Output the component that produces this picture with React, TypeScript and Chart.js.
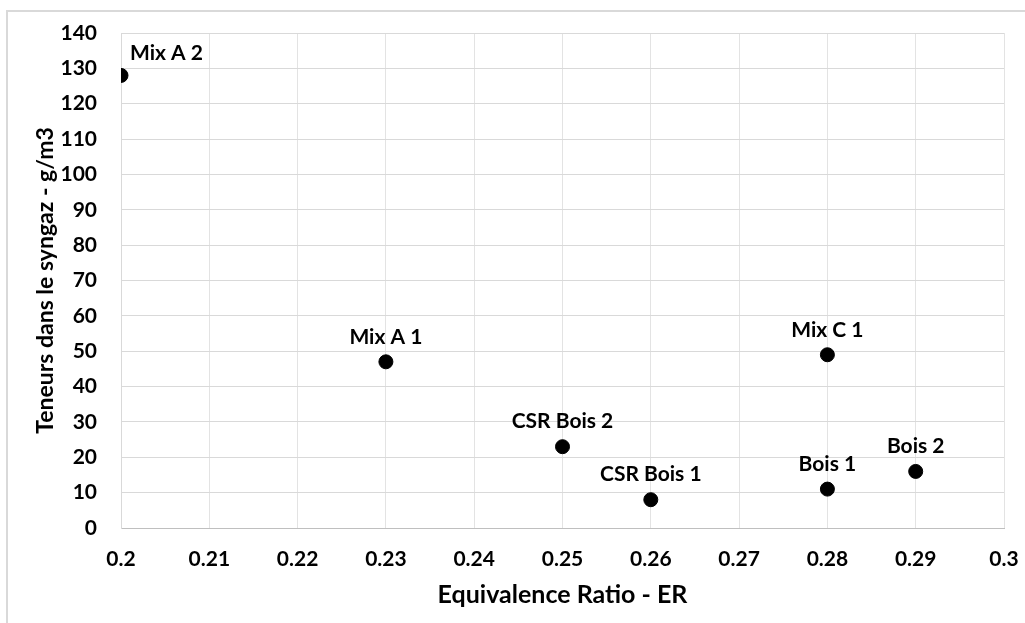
import React, { useEffect, useRef } from "react";
import { Chart, registerables } from "chart.js";

Chart.register(...registerables);

const labels = ["Mix A 2", "Mix A 1", "CSR Bois 2", "CSR Bois 1", "Mix C 1", "Bois 1", "Bois 2"];
const erValues = [0.2, 0.23, 0.25, 0.26, 0.28, 0.28, 0.29];
const teneurValues = [128, 47, 23, 8, 49, 11, 16];
const xTicks = [0.2, 0.21, 0.22, 0.23, 0.24, 0.25, 0.26, 0.27, 0.28, 0.29, 0.3];
const yTicks = [0, 10, 20, 30, 40, 50, 60, 70, 80, 90, 100, 110, 120, 130, 140];
const xTitle = "Equivalence Ratio - ER";
const yTitle = "Teneurs dans le syngaz - g/m3";

const FONT = "Lato";

const pointLabelPlugin = {
  id: "pointLabels",
  afterDatasetsDraw(chart: any) {
    const ctx = chart.ctx;
    const meta = chart.getDatasetMeta(0);
    const xMin = chart.scales.x.min;
    ctx.save();
    ctx.font = `bold 21px ${FONT}`;
    ctx.fillStyle = "#000";
    ctx.textBaseline = "middle";
    meta.data.forEach((el: any, i: number) => {
      const text = labels[i];
      if (erValues[i] <= xMin) {
        ctx.textAlign = "left";
        ctx.fillText(text, el.x + 9, el.y - 22);
      } else {
        ctx.textAlign = "center";
        ctx.fillText(text, el.x, el.y - 25);
      }
    });
    ctx.restore();
  },
};

export default function App() {
  const ref = useRef<HTMLCanvasElement | null>(null);
  useEffect(() => {
    if (!ref.current) return;
    const chart = new Chart(ref.current, {
      type: "scatter",
      data: {
        datasets: [
          {
            label: "Teneurs",
            data: erValues.map((x, i) => ({ x, y: teneurValues[i] })),
            backgroundColor: "#000",
            borderColor: "#000",
            pointRadius: 7,
            pointHoverRadius: 7,
          },
        ],
      },
      options: {
        animation: false,
        responsive: false,
        maintainAspectRatio: false,
        layout: { padding: { top: 33, right: 21, left: 0, bottom: 0 } },
        plugins: {
          legend: { display: false },
          tooltip: { enabled: false },
        },
        scales: {
          x: {
            type: "linear",
            min: 0.2,
            max: 0.3,
            afterBuildTicks: (scale: any) => {
              scale.ticks = xTicks.map((v) => ({ value: v }));
            },
            afterFit: (scale: any) => {
              scale.height = 95;
              scale.paddingLeft = 0;
              scale.paddingRight = 0;
            },
            grid: { color: "#e3e3e3", drawTicks: false, lineWidth: 1 },
            border: { color: "#bfbfbf", width: 1 },
            ticks: {
              padding: 19,
              color: "#000",
              font: { family: FONT, size: 21, weight: "bold" },
              callback: (v: any) => String(v),
            },
            title: {
              display: true,
              text: xTitle,
              color: "#000",
              font: { family: FONT, size: 25, weight: "bold" },
              padding: { top: 0, bottom: 13 },
            },
          },
          y: {
            type: "linear",
            min: 0,
            max: 140,
            afterBuildTicks: (scale: any) => {
              scale.ticks = yTicks.map((v) => ({ value: v }));
            },
            afterFit: (scale: any) => {
              scale.width = 121;
              scale.paddingTop = 0;
              scale.paddingBottom = 0;
            },
            grid: { color: "#d9d9d9", drawTicks: false, lineWidth: 1 },
            border: { color: "#d9d9d9", width: 1 },
            ticks: {
              padding: 24,
              color: "#000",
              font: { family: FONT, size: 21, weight: "bold" },
              callback: (v: any) => String(v),
            },
            title: {
              display: true,
              text: yTitle,
              color: "#000",
              font: { family: FONT, size: 23, weight: "bold" },
              padding: { top: 32, bottom: 0 },
            },
          },
        },
      },
      plugins: [pointLabelPlugin],
    });
    return () => chart.destroy();
  }, []);

  return (
    <div style={{ position: "fixed", left: 0, top: 0, width: 1025, height: 623, background: "#fff" }}>
      <div
        style={{
          position: "absolute",
          left: 6,
          top: 10,
          width: 1030,
          height: 630,
          borderTop: "2px solid #d9d9d9",
          borderLeft: "2px solid #d9d9d9",
          boxSizing: "border-box",
        }}
      />
      <canvas ref={ref} width={1025} height={623} style={{ position: "absolute", left: 0, top: 0, width: 1025, height: 623 }} />
    </div>
  );
}
